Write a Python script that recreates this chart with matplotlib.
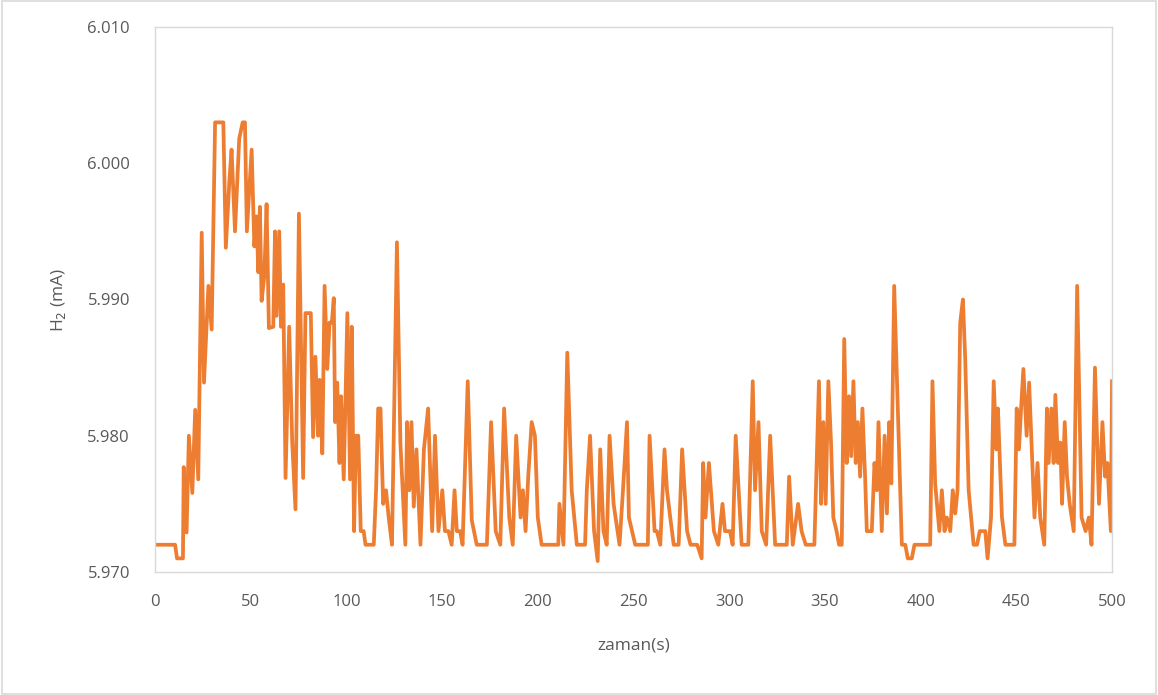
import matplotlib
matplotlib.use("Agg")
import matplotlib.pyplot as plt
from matplotlib.patches import Rectangle
from matplotlib.ticker import FormatStrFormatter

time_s = [0, 10.5, 11.5, 14.6, 15, 16.5, 17.7, 19.5, 21, 22.6, 24.4, 25.6, 27.9, 29.6,
          31.4, 35.7, 37, 38.9, 40, 41.8, 44, 45.8, 47, 48, 50.5, 51.9, 53, 54, 54.8,
          55.7, 57.1, 58.3, 59.5, 61.8, 62.7, 63.5, 64.9, 65.8, 67, 68.2, 70.1, 71.7,
          73.4, 75.2, 77.4, 78.6, 81.4, 82.6, 83.8, 85.2, 86, 87.4, 88.6, 90, 91.2,
          92.4, 93.4, 94.1, 95.2, 96.4, 97.2, 98.6, 100.5, 101.9, 102.8, 104, 105,
          106.2, 107.5, 109, 110, 114.3, 115.5, 116.6, 117.8, 119.2, 120.7, 122.1,
          123.8, 126.4, 128.2, 130.8, 131.7, 132.9, 134, 135.2, 136.6, 138.7, 140.5,
          142.7, 144.8, 146.3, 148.1, 150.1, 151.5, 153.3, 155, 156.5, 157.7, 159.4,
          160.7, 163.4, 165.5, 168.1, 173.4, 175.6, 178, 180.4, 182.4, 185.1, 186.9,
          188.7, 191, 192.2, 193.6, 195, 196.8, 198.5, 200, 202, 210.7, 211.3, 213.4,
          215.4, 217.7, 220.4, 224.7, 225.6, 227.3, 229.4, 231.3, 232.6, 234.3, 236,
          237.5, 239.6, 242.7, 244.5, 246.6, 247.6, 250.9, 257.5, 258.4, 261, 262.2,
          264, 266.2, 267.5, 269.2, 271, 273.6, 275.4, 278, 279.8, 283.3, 285.6,
          286.4, 287.6, 289.4, 292, 294.3, 296.5, 297.8, 300.4, 301.8, 303.4, 306.5,
          310, 312.3, 313.5, 315.3, 317, 319.3, 321.4, 324, 330.1, 331.3, 333.2, 336,
          337.8, 340, 344.5, 346.9, 348, 349.2, 350.4, 351.8, 353.2, 354.4, 356.1,
          357.4, 358.8, 360.1, 361.4, 362.6, 363.7, 364.9, 366.1, 367.2, 368.4,
          369.6, 371, 371.9, 374.5, 375.9, 377.1, 378, 379.7, 381.2, 382.4, 383.6,
          384.7, 386.2, 390.2, 392, 393.3, 395.4, 396.8, 405, 406.2, 407.6, 409.8,
          411.1, 412.5, 413.7, 415.5, 416.8, 418.1, 419.3, 420.7, 422.1, 423.3,
          425.1, 427.7, 429.5, 430.9, 433.8, 435, 436.8, 438.2, 439.6, 440.4, 442.5,
          444.3, 449, 450.2, 451.4, 452.5, 453.7, 455.4, 456.7, 458.1, 459.5, 461.1,
          462.5, 464.6, 466, 466.9, 468.3, 469.5, 470.4, 471.8, 473, 473.9, 475.3,
          476.5, 477.9, 480, 481.8, 484.1, 486.2, 487.9, 489.3, 491.1, 493.2, 495,
          496.4, 497.6, 499.4, 500]

h2_mA = [5.972, 5.972, 5.971, 5.971, 5.9777, 5.9729, 5.980, 5.9758, 5.9819, 5.9768,
         5.9949, 5.9839, 5.991, 5.9878, 6.003, 6.003, 5.9938, 5.9988, 6.001, 5.995,
         6.0018, 6.003, 6.003, 5.995, 6.001, 5.9939, 5.9961, 5.992, 5.9968, 5.9899,
         5.9917, 5.997, 5.9879, 5.988, 5.995, 5.9888, 5.995, 5.988, 5.9911, 5.9769,
         5.988, 5.9795, 5.9746, 5.9963, 5.9769, 5.989, 5.989, 5.9799, 5.9858, 5.980,
         5.9841, 5.9787, 5.991, 5.9849, 5.9883, 5.9883, 5.9901, 5.981, 5.9839, 5.978,
         5.9829, 5.9768, 5.989, 5.9768, 5.988, 5.973, 5.980, 5.980, 5.973, 5.973,
         5.972, 5.972, 5.976, 5.982, 5.982, 5.975, 5.976, 5.974, 5.972, 5.9942,
         5.9795, 5.972, 5.981, 5.976, 5.981, 5.9748, 5.979, 5.972, 5.979, 5.982,
         5.973, 5.980, 5.973, 5.976, 5.973, 5.973, 5.972, 5.976, 5.973, 5.973, 5.972,
         5.984, 5.9738, 5.972, 5.972, 5.981, 5.973, 5.972, 5.982, 5.974, 5.972,
         5.980, 5.974, 5.976, 5.973, 5.977, 5.981, 5.980, 5.974, 5.972, 5.972,
         5.975, 5.972, 5.9861, 5.976, 5.972, 5.972, 5.976, 5.980, 5.973, 5.9708,
         5.979, 5.973, 5.972, 5.980, 5.975, 5.972, 5.976, 5.981, 5.974, 5.972,
         5.972, 5.980, 5.973, 5.973, 5.972, 5.979, 5.976, 5.974, 5.972, 5.972,
         5.979, 5.973, 5.972, 5.972, 5.971, 5.978, 5.974, 5.978, 5.973, 5.972,
         5.975, 5.973, 5.973, 5.972, 5.980, 5.972, 5.972, 5.984, 5.976, 5.981,
         5.973, 5.972, 5.980, 5.972, 5.972, 5.977, 5.972, 5.975, 5.973, 5.972,
         5.972, 5.984, 5.975, 5.981, 5.975, 5.984, 5.9795, 5.974, 5.973, 5.972,
         5.972, 5.9871, 5.978, 5.9829, 5.9785, 5.984, 5.978, 5.981, 5.977, 5.982,
         5.977, 5.973, 5.973, 5.978, 5.976, 5.981, 5.973, 5.980, 5.9743, 5.981,
         5.9765, 5.991, 5.972, 5.972, 5.971, 5.971, 5.972, 5.972, 5.984, 5.9765,
         5.973, 5.976, 5.973, 5.974, 5.973, 5.976, 5.9743, 5.976, 5.9883, 5.990,
         5.9857, 5.976, 5.972, 5.972, 5.973, 5.973, 5.971, 5.974, 5.984, 5.979,
         5.982, 5.974, 5.972, 5.972, 5.982, 5.979, 5.982, 5.9849, 5.980, 5.9839,
         5.979, 5.974, 5.978, 5.974, 5.972, 5.982, 5.978, 5.982, 5.978, 5.983,
         5.978, 5.9795, 5.975, 5.981, 5.977, 5.975, 5.973, 5.991, 5.974, 5.973,
         5.974, 5.972, 5.985, 5.975, 5.981, 5.977, 5.978, 5.973, 5.984]

x_ticks = [0, 50, 100, 150, 200, 250, 300, 350, 400, 450, 500]
y_ticks = [5.970, 5.980, 5.990, 6.000, 6.010]

plt.rcParams['font.family'] = ['Open Sans', 'DejaVu Sans']

fig = plt.figure(figsize=(11.58, 6.95), dpi=100)
ax = fig.add_axes([155 / 1158, 1 - 572 / 695, (1112 - 155) / 1158, (572 - 27) / 695])

ax.plot(time_s, h2_mA, color='#ED7D31', lw=2.7, solid_joinstyle='round')

ax.set_xlim(0, 500)
ax.set_ylim(5.970, 6.010)
ax.set_xticks(x_ticks)
ax.set_yticks(y_ticks)
ax.yaxis.set_major_formatter(FormatStrFormatter('%.3f'))
ax.tick_params(length=0, labelsize=12, colors='#595959')
ax.tick_params(axis='x', pad=16)
ax.tick_params(axis='y', pad=18)
for s in ax.spines.values():
    s.set_color('#D9D9D9')
    s.set_linewidth(1.0)

ax.set_xlabel('zaman(s)', fontsize=12.5, color='#595959', labelpad=20)
ax.set_ylabel('H$_2$ (mA)', fontsize=12.5, color='#595959', labelpad=14)

fig.patches.append(Rectangle((0.002, 0.002), 0.996, 0.996, transform=fig.transFigure,
                             fill=False, edgecolor='#D9D9D9', lw=1.2))

fig.savefig('out.png', dpi=100)
